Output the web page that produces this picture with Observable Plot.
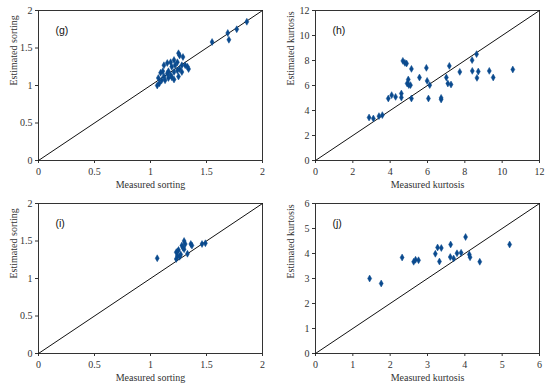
<!DOCTYPE html>
<html>
<head>
<meta charset="utf-8">
<script src="https://cdn.jsdelivr.net/npm/d3@7"></script>
<script src="https://cdn.jsdelivr.net/npm/@observablehq/plot@0.6"></script>
<style>
  html, body { margin: 0; padding: 0; background: #fff; }
  #wrap { position: relative; width: 550px; height: 386px; }
  .cell { position: absolute; width: 275px; height: 193px; }
</style>
</head>
<body>
<div id="wrap">
  <div class="cell" id="g" style="left:0;top:0"></div>
  <div class="cell" id="h" style="left:275px;top:0"></div>
  <div class="cell" id="i" style="left:0;top:193px"></div>
  <div class="cell" id="j" style="left:275px;top:193px"></div>
</div>
<script>
// Panel (g): sorting
const gMeasured  = [1.86,1.77,1.69,1.70,1.55,1.06,1.08,1.07,1.10,1.12,1.13,1.11,1.12,1.15,1.16,1.18,1.19,1.18,1.21,1.22,1.24,1.25,1.26,1.29,1.26,1.28,1.21,1.21,1.25,1.24,1.31,1.33,1.34,1.15,1.16,1.19,1.28,1.09];
const gEstimated = [1.85,1.75,1.70,1.61,1.58,1.00,1.03,1.10,1.07,1.12,1.07,1.19,1.27,1.30,1.19,1.14,1.25,1.31,1.34,1.27,1.31,1.43,1.40,1.38,1.22,1.27,1.18,1.08,1.12,1.20,1.27,1.25,1.22,1.16,1.10,1.11,1.18,1.17];
// Panel (h): kurtosis
const hMeasured  = [2.87,3.10,3.40,3.58,3.90,4.08,4.29,4.60,4.60,4.68,4.79,4.88,4.91,4.97,5.00,5.09,5.14,5.14,5.57,5.94,5.98,6.12,6.05,6.73,6.73,7.01,7.09,7.17,7.26,7.73,8.39,8.40,8.63,8.72,8.65,9.31,9.52,10.57];
const hEstimated = [3.44,3.36,3.55,3.63,4.96,5.23,5.09,5.36,5.04,7.97,7.81,7.76,6.16,6.48,6.03,6.03,7.33,4.96,6.64,7.41,6.37,6.03,4.96,4.88,5.01,6.64,6.16,7.57,6.08,7.09,8.03,7.17,8.51,7.12,6.61,7.17,6.64,7.28];
// Panel (i): sorting
const iMeasured  = [1.06,1.23,1.24,1.23,1.25,1.27,1.28,1.30,1.31,1.30,1.29,1.33,1.36,1.37,1.46,1.49,1.26,1.24];
const iEstimated = [1.27,1.26,1.30,1.35,1.38,1.32,1.44,1.50,1.46,1.39,1.41,1.33,1.46,1.44,1.46,1.47,1.29,1.36];
// Panel (j): kurtosis
const jMeasured  = [1.45,1.76,2.32,2.63,2.68,2.76,3.21,3.27,3.37,3.32,3.62,3.61,3.70,3.79,3.90,4.02,4.12,4.14,4.40,5.20];
const jEstimated = [3.00,2.80,3.84,3.67,3.75,3.73,3.99,4.24,4.22,3.68,4.36,3.86,3.80,4.01,4.03,4.66,3.96,3.85,3.67,4.36];

const sortingTicks = [0, 0.5, 1, 1.5, 2];
const kurtHTicks = [0, 2, 4, 6, 8, 10, 12];
const kurtJTicks = [0, 1, 2, 3, 4, 5, 6];

const panels = [
  {id: "g", tag: "(g)", xs: gMeasured, ys: gEstimated, ticks: sortingTicks, xl: "Measured sorting", yl: "Estimated sorting", ml: 38, mr: 13},
  {id: "h", tag: "(h)", xs: hMeasured, ys: hEstimated, ticks: kurtHTicks, xl: "Measured kurtosis", yl: "Estimated kurtosis", ml: 40, mr: 11},
  {id: "i", tag: "(i)", xs: iMeasured, ys: iEstimated, ticks: sortingTicks, xl: "Measured sorting", yl: "Estimated sorting", ml: 38, mr: 13},
  {id: "j", tag: "(j)", xs: jMeasured, ys: jEstimated, ticks: kurtJTicks, xl: "Measured kurtosis", yl: "Estimated kurtosis", ml: 40, mr: 11}
];

const serif = "Liberation Serif, Times New Roman, serif";
const ptColor = "#0a4a8e";

for (const p of panels) {
  const data = p.xs.map((x, k) => ({x, y: p.ys[k]}));
  const lo = p.ticks[0], hi = p.ticks[p.ticks.length - 1];
  const diag = [{x: lo, y: lo}, {x: hi, y: hi}];
  const chart = Plot.plot({
    width: 275,
    height: 193,
    marginLeft: p.ml,
    marginRight: p.mr,
    marginTop: 10,
    marginBottom: 33,
    style: {fontFamily: serif, fontSize: "10px", background: "white", color: "#333"},
    x: {domain: [lo, hi]},
    y: {domain: [lo, hi]},
    marks: [
      Plot.axisX({ticks: p.ticks, tickSize: 3, tickPadding: 4, tickFormat: d => String(d), label: null, fontFamily: serif, fontSize: 10}),
      Plot.axisY({ticks: p.ticks, tickSize: 3, tickPadding: 3, tickFormat: d => String(d), label: null, fontFamily: serif, fontSize: 10}),
      Plot.frame({stroke: "#333", strokeWidth: 1}),
      Plot.line(diag, {x: "x", y: "y", stroke: "#111", strokeWidth: 1}),
      Plot.dot(data, {x: "x", y: "y", symbol: "diamond", r: 2.1, fill: ptColor, stroke: ptColor, strokeWidth: 0.5}),
      Plot.text([p.tag], {text: d => d, frameAnchor: "top-left", dx: 17, dy: 16, textAnchor: "start", fontFamily: "Liberation Sans, Arial, sans-serif", fontSize: 10.5, fill: "#111"}),
      Plot.text([p.xl], {text: d => d, frameAnchor: "bottom", dy: 24, lineAnchor: "middle", fontFamily: serif, fontSize: 10, fill: "#333"}),
      Plot.text([p.yl], {text: d => d, frameAnchor: "left", dx: -25, rotate: -90, fontFamily: serif, fontSize: 10, fill: "#333"})
    ]
  });
  document.getElementById(p.id).appendChild(chart);
}
</script>
</body>
</html>
